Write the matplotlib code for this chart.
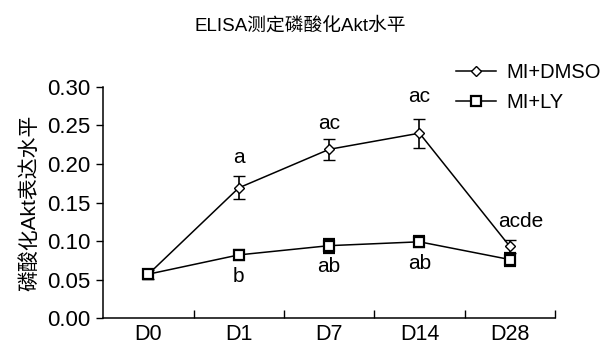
import matplotlib.pyplot as plt
from matplotlib.lines import Line2D

plt.rcParams['font.family'] = ['Liberation Sans', 'Noto Sans CJK SC', 'DejaVu Sans']

days = ['D0', 'D1', 'D7', 'D14', 'D28']
dmso = [0.057, 0.169, 0.219, 0.240, 0.093]
dmso_err = [0.006, 0.015, 0.014, 0.019, 0.008]
ly = [0.057, 0.082, 0.094, 0.099, 0.076]
ly_err = [0.006, 0.006, 0.009, 0.007, 0.008]

# significance letters: (x index, y position, text)
dmso_marks = [(1, 0.196, 'a'), (2, 0.240, 'ac'), (3, 0.275, 'ac'), (4, 0.113, 'acde')]
ly_marks = [(1, 0.041, 'b'), (2, 0.054, 'ab'), (3, 0.058, 'ab')]

fig = plt.figure(figsize=(6, 3.45), dpi=100)
ax = fig.add_axes([0.172, 0.078, 0.753, 0.67])

x = list(range(len(days)))
ax.errorbar(x, dmso, yerr=dmso_err, color='black', lw=1.1, marker='D', ms=5.5,
            mfc='white', mec='black', mew=1.0, capsize=4, elinewidth=1.2, capthick=1.2)
ax.errorbar(x, ly, yerr=ly_err, color='black', lw=1.1, marker='s', ms=6.5,
            mfc='white', mec='black', mew=1.6, capsize=4, elinewidth=1.2, capthick=1.2)

for i, y, t in dmso_marks + ly_marks:
    ax.text(i + (0.12 if t == 'acde' else 0), y, t, ha='center', va='bottom', fontsize=15)

ax.set_xlim(-0.5, 4.5)
ax.set_ylim(0, 0.30)
ax.set_yticks([0, 0.05, 0.10, 0.15, 0.20, 0.25, 0.30])
ax.set_yticklabels(['0.00', '0.05', '0.10', '0.15', '0.20', '0.25', '0.30'])
ax.set_xticks([0.5, 1.5, 2.5, 3.5, 4.5])
ax.set_xticklabels([])
ax.set_xticks(x, minor=True)
ax.set_xticklabels(days, minor=True)
ax.tick_params(axis='x', which='minor', length=0, pad=4, labelsize=15.5)
ax.tick_params(axis='x', which='major', direction='in', length=6, width=1)
ax.tick_params(axis='y', direction='out', length=5, width=1, labelsize=16, pad=4)
for s in ['top', 'right']:
    ax.spines[s].set_visible(False)
for s in ['left', 'bottom']:
    ax.spines[s].set_linewidth(1.1)

ax.set_ylabel('磷酸化Akt表达水平', fontsize=15, labelpad=6)
fig.suptitle('ELISA测定磷酸化Akt水平', fontsize=13.5, y=0.95)

handles = [
    Line2D([], [], color='black', lw=1.1, marker='D', ms=5.5, mfc='white', mec='black'),
    Line2D([], [], color='black', lw=1.1, marker='s', ms=6.5, mfc='white', mec='black', mew=1.6),
]
fig.legend(handles, ['MI+DMSO', 'MI+LY'], loc='upper left', bbox_to_anchor=(0.73, 0.87),
           frameon=False, fontsize=14.5, handlelength=2.0, handletextpad=0.5, labelspacing=0.55)

fig.savefig('out.png', dpi=100)
